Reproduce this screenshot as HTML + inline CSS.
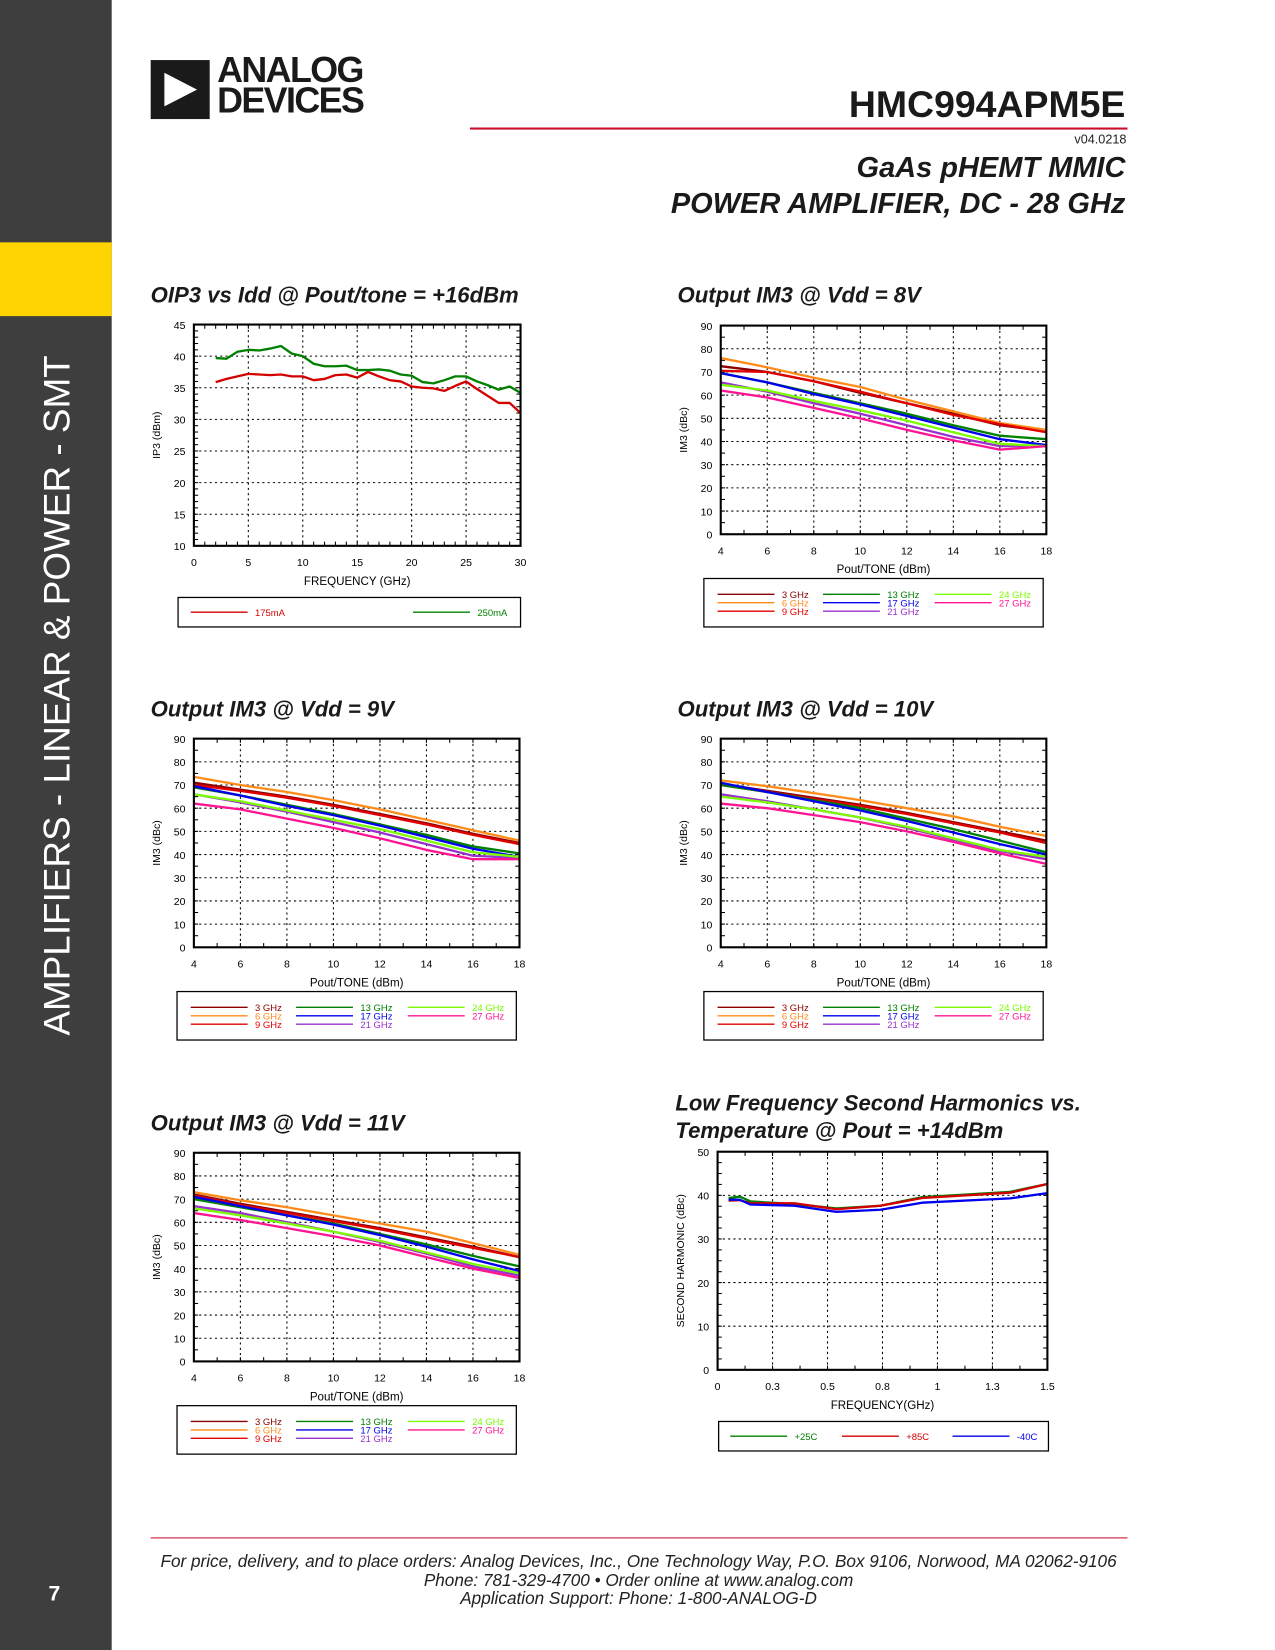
<!DOCTYPE html>
<html><head><meta charset="utf-8">
<style>
html,body{margin:0;padding:0;background:#fff;}
body{width:1275px;height:1650px;overflow:hidden;position:relative;font-family:"Liberation Sans",sans-serif;}
#wrap{position:absolute;left:0;top:0;width:1210px;height:1566px;transform:scale(1.05372);transform-origin:0 0;}
.abs{position:absolute;white-space:nowrap;}
</style></head>
<body>
<div id="wrap">
<div class="abs" style="left:0;top:0;width:106px;height:1566px;background:#3e3e3e;"></div>
<div class="abs" style="left:0;top:230px;width:106px;height:70px;background:#ffd400;"></div>
<div class="abs" style="left:55px;top:660px;color:#fff;font-size:35px;transform:translate(-50%,-50%) rotate(-90deg);">AMPLIFIERS - LINEAR &amp; POWER - SMT</div>
<div class="abs" style="left:46px;top:1502px;color:#fff;font-size:20px;font-weight:bold;">7</div>

<div class="abs" style="left:143px;top:57px;width:56px;height:56px;background:#1a1a1a;">
<svg width="56" height="56"><polygon points="13,12 13,44 44,28" fill="#fff"/></svg></div>
<div class="abs" style="left:206px;top:53px;font-size:34px;font-weight:bold;line-height:29px;letter-spacing:-1.5px;color:#1a1a1a;">ANALOG<br>DEVICES</div>
<div class="abs" style="right:142px;top:79px;font-size:35.5px;font-weight:bold;color:#1a1a1a;">HMC994APM5E</div>
<div class="abs" style="left:446px;top:121px;width:624px;height:2px;background:#c8102e;"></div>
<div class="abs" style="right:141px;top:125px;font-size:12px;color:#222;">v04.0218</div>
<div class="abs" style="right:142px;top:142px;font-size:27.5px;font-weight:bold;font-style:italic;text-align:right;line-height:34px;color:#1a1a1a;">GaAs pHEMT MMIC<br>POWER AMPLIFIER, DC - 28 GHz</div>

<div class="abs" style="left:143px;top:1459px;width:927px;height:1px;background:#c8102e;"></div>
<div class="abs" style="left:606px;top:1474px;transform:translateX(-50%);font-size:16.3px;font-style:italic;text-align:center;line-height:17.5px;color:#222;">For price, delivery, and to place orders: Analog Devices, Inc., One Technology Way, P.O. Box 9106, Norwood, MA 02062-9106<br>Phone: 781-329-4700 • Order online at www.analog.com<br>Application Support: Phone: 1-800-ANALOG-D</div>

<svg id="charts" class="abs" style="left:0;top:0" width="1210" height="1566"></svg>
</div>
<script>
// Chart 1: OIP3 vs Idd
const oipFreq = [2,3,4,5,6,7,8,9,10,11,12,13,14,15,16,17,18,19,20,21,22,23,24,25,26,27,28,29,30];
const oip175 = [35.9,36.4,36.8,37.2,37.1,37.0,37.1,36.8,36.8,36.2,36.4,37.0,37.1,36.6,37.5,36.8,36.2,36.0,35.2,35.0,34.9,34.5,35.3,36.0,34.8,33.7,32.6,32.6,31.0];
const oip250 = [39.7,39.6,40.7,41.0,40.9,41.2,41.6,40.4,40.0,38.8,38.4,38.4,38.5,37.8,37.8,37.9,37.7,37.1,36.9,35.9,35.7,36.2,36.8,36.8,36.0,35.4,34.7,35.2,34.2];
const oipXTicks = [0,5,10,15,20,25,30];
const oipYTicks = [10,15,20,25,30,35,40,45];
// IM3 charts
const pout = [4,6,8,10,12,14,16,18];
const im3XTicks = [4,6,8,10,12,14,16,18];
const im3YTicks = [0,10,20,30,40,50,60,70,80,90];
const im3Labels = ['3 GHz','6 GHz','9 GHz','13 GHz','17 GHz','21 GHz','24 GHz','27 GHz'];
const v8_3 = [72.5,70,66,61,56.5,52,47,44.5];
const v8_6 = [76,72,67.5,63.5,58,53,48,45];
const v8_9 = [70.5,70,66,61.5,56.5,51.5,47.5,44];
const v8_13 = [69.5,65.5,61,56.5,52,47,42.5,41];
const v8_17 = [69.5,65.5,60.5,56,51,46,41,38.5];
const v8_21 = [65.5,61.5,56.5,52,47,42,38,38];
const v8_24 = [64.5,62,57.5,53.5,49,44,39,38];
const v8_27 = [62,59,54.5,50,45,40.5,36.5,38];
const v9_3 = [71,68,65,61.5,57.5,53.5,49,45];
const v9_6 = [73.5,70,67,63.5,59.5,55,50.5,46];
const v9_9 = [70,67.5,64.5,61,57,53,48.5,44.5];
const v9_13 = [69,65.5,61.5,57.5,53,48.5,43.5,40.5];
const v9_17 = [69.5,65.5,61,57,52.5,47.5,42.5,39];
const v9_21 = [66,62.5,58.5,54,49.5,44.5,39.5,38.5];
const v9_24 = [66,63,59,55,51,46,41,39];
const v9_27 = [62,59.5,55.5,51.5,47,42,38,38];
const v10_3 = [70.5,67.5,64.5,61.5,58,54,50,46];
const v10_6 = [72,69.5,66.5,63.5,60,56.5,52,48];
const v10_9 = [70,67,64,61,57.5,53.5,49.5,45];
const v10_13 = [70,67,63.5,60,55.5,51,46,41];
const v10_17 = [71,67,63,59,54.5,49.5,44.5,40];
const v10_21 = [66,63,59.5,56,51.5,46.5,41.5,38];
const v10_24 = [65,62.5,59.5,56,52,47,42,39];
const v10_27 = [62,60,57,54,50,45.5,40.5,36];
const v11_3 = [72,68,64.5,61,57.5,53.5,49.5,45];
const v11_6 = [73,69.5,66.5,63,59.5,56,51,46];
const v11_9 = [71.5,67.5,64,60.5,57,53,49,45];
const v11_13 = [70,66.5,63,59.5,55,50.5,45.5,41];
const v11_17 = [71,67,63,59,54.5,49.5,44,39];
const v11_21 = [67,64,60,56,51.5,46.5,41,37];
const v11_24 = [66,63,59.5,56,52,47,42,38];
const v11_27 = [64,61,57.5,54,50,45,40,36];
// Second harmonics
const shFreq = [0.05,0.1,0.15,0.35,0.54,0.74,0.93,1.33,1.5];
const sh25 = [39.4,39.7,38.6,38.0,37.0,37.6,39.6,40.8,42.6];
const sh85 = [38.8,38.9,38.2,38.2,36.8,37.6,39.4,40.6,42.6];
const shM40 = [39.0,39.0,37.9,37.6,36.2,36.7,38.3,39.3,40.5];
const shXTicks = [0,0.25,0.5,0.75,1,1.25,1.5];
const shXTickLabels = ['0','0.3','0.5','0.8','1','1.3','1.5'];
const shYTicks = [0,10,20,30,40,50];

const im3Colors = ['#8b0000','#ff8c1a','#e00000','#008000','#0000ee','#9932cc','#7cfc00','#ff1493'];
const NS='http://www.w3.org/2000/svg';
const root=document.getElementById('charts');
function mk(tag,attrs,parent){const e=document.createElementNS(NS,tag);for(const k in attrs)e.setAttribute(k,attrs[k]);(parent||root).appendChild(e);return e;}
function txt(s,x,y,attrs,parent){const t=mk('text',Object.assign({x:x,y:y,'font-family':'Liberation Sans, sans-serif'},attrs),parent);t.textContent=s;return t;}

function chart(name,L,T,R,B,xmin,xmax,ymin,ymax,xt,xtl,yt,minorX,minorY,xTitle,yTitle,series){
  const g=mk('g',{});
  
  
  const sx=v=>L+(v-xmin)/(xmax-xmin)*(R-L);
  const sy=v=>B-(v-ymin)/(ymax-ymin)*(B-T);
  xt.forEach(v=>{const x=sx(v);if(v>xmin&&v<xmax){const l=mk('line',{x1:x,x2:x,y1:T,y2:B,stroke:'#000','stroke-width':1,'stroke-dasharray':'2,3'},g);}});
  yt.forEach(v=>{const y=sy(v);if(v>ymin&&v<ymax){const l=mk('line',{x1:L,x2:R,y1:y,y2:y,stroke:'#000','stroke-width':1,'stroke-dasharray':'2,3'},g);}});
  for(let v=xmin;v<=xmax+1e-9;v+=minorX){const x=sx(v);mk('line',{x1:x,x2:x,y1:B,y2:B-4,stroke:'#000'},g);mk('line',{x1:x,x2:x,y1:T,y2:T+4,stroke:'#000'},g);}
  for(let v=ymin;v<=ymax+1e-9;v+=minorY){const y=sy(v);mk('line',{x1:L,x2:L+4,y1:y,y2:y,stroke:'#000'},g);mk('line',{x1:R,x2:R-4,y1:y,y2:y,stroke:'#000'},g);}
  xt.forEach((v,i)=>{const t=txt(xtl[i],sx(v),B+19,{'font-size':10,'text-anchor':'middle'},g);});
  yt.forEach(v=>{const t=txt(String(v),L-8,sy(v)+4,{'font-size':10,'text-anchor':'end'},g);});
  const xtT=txt(xTitle,(L+R)/2,B+37,{'font-size':11,'text-anchor':'middle'},g);
  
  const cy=(T+B)/2;
  const ytT=txt(yTitle,L-32,cy,{'font-size':10,'text-anchor':'middle',transform:'rotate(-90 '+(L-32)+' '+cy+')'},g);
  
  series.forEach(s=>{
    const d=s.x.map((xv,i)=>(i?'L':'M')+sx(xv).toFixed(1)+','+sy(s.y[i]).toFixed(1)).join(' ');
    const p=mk('path',{d:d,fill:'none',stroke:s.c,'stroke-width':2.2,'stroke-linejoin':'round'},g);
    
  });
  const b=mk('rect',{x:L,y:T,width:R-L,height:B-T,fill:'none',stroke:'#000','stroke-width':2},g);
  
  return g;
}
function title(lines,x,y){lines.forEach((s,i)=>{const t=txt(s,x,y+i*26,{'font-size':21,'font-weight':'bold','font-style':'italic',fill:'#1a1a1a'});});}
function legendBox(x,y,w,h){const r=mk('rect',{x:x,y:y,width:w,height:h,fill:'#fff',stroke:'#000','stroke-width':1.2});}
function legEntry(lx,ly,label,color){
  const l=mk('line',{x1:lx,x2:lx+54,y1:ly,y2:ly,stroke:color,'stroke-width':1.3});
  
  const t=txt(label,lx+61,ly+3.5,{'font-size':9,fill:color});
  
}
function im3(name,L,T,sets){
  const R=L+309,B=T+198;
  chart(name,L,T,R,B,4,18,0,90,im3XTicks,im3XTicks.map(String),im3YTicks,1,5,'Pout/TONE (dBm)','IM3 (dBc)',
    sets.map((y,i)=>({x:pout,y:y,c:im3Colors[i]})));
  const lx=L-16,ly=B+42;
  legendBox(lx,ly,322,46);
  const cols=[13,113,219];
  [[0,1,2],[3,4,5],[6,7]].forEach((idx,ci)=>idx.forEach((k,j)=>legEntry(lx+cols[ci],ly+15+j*8,im3Labels[k],im3Colors[k])));
}

title(['OIP3 vs Idd @ Pout/tone = +16dBm'],143,287);
chart('oip3-chart',184,308,494,518,0,30,10,45,oipXTicks,oipXTicks.map(String),oipYTicks,1,1,'FREQUENCY (GHz)','IP3 (dBm)',
  [{x:oipFreq,y:oip175,c:'#d40000'},{x:oipFreq,y:oip250,c:'#008000'}]);
legendBox(169,567,325,28);
legEntry(181,581,'175mA','#d40000');
legEntry(392,581,'250mA','#008000');

title(['Output IM3 @ Vdd = 8V'],643,287);
im3('im3-vdd8-chart',684,309,[v8_3,v8_6,v8_9,v8_13,v8_17,v8_21,v8_24,v8_27]);
title(['Output IM3 @ Vdd = 9V'],143,680);
im3('im3-vdd9-chart',184,701,[v9_3,v9_6,v9_9,v9_13,v9_17,v9_21,v9_24,v9_27]);
title(['Output IM3 @ Vdd = 10V'],643,680);
im3('im3-vdd10-chart',684,701,[v10_3,v10_6,v10_9,v10_13,v10_17,v10_21,v10_24,v10_27]);
title(['Output IM3 @ Vdd = 11V'],143,1073);
im3('im3-vdd11-chart',184,1094,[v11_3,v11_6,v11_9,v11_13,v11_17,v11_21,v11_24,v11_27]);

title(['Low Frequency Second Harmonics vs.','Temperature @ Pout = +14dBm'],641,1054);
chart('second-harmonic-chart',681,1093,994,1300,0,1.5,0,50,shXTicks,shXTickLabels,shYTicks,0.125,2.5,'FREQUENCY(GHz)','SECOND HARMONIC (dBc)',
  [{x:shFreq,y:sh25,c:'#008000'},{x:shFreq,y:sh85,c:'#d40000'},{x:shFreq,y:shM40,c:'#0000ee'}]);
legendBox(682,1349,313,28);
legEntry(693,1363,'+25C','#008000');
legEntry(799,1363,'+85C','#d40000');
legEntry(904,1363,'-40C','#0000ee');
</script>
</body></html>
